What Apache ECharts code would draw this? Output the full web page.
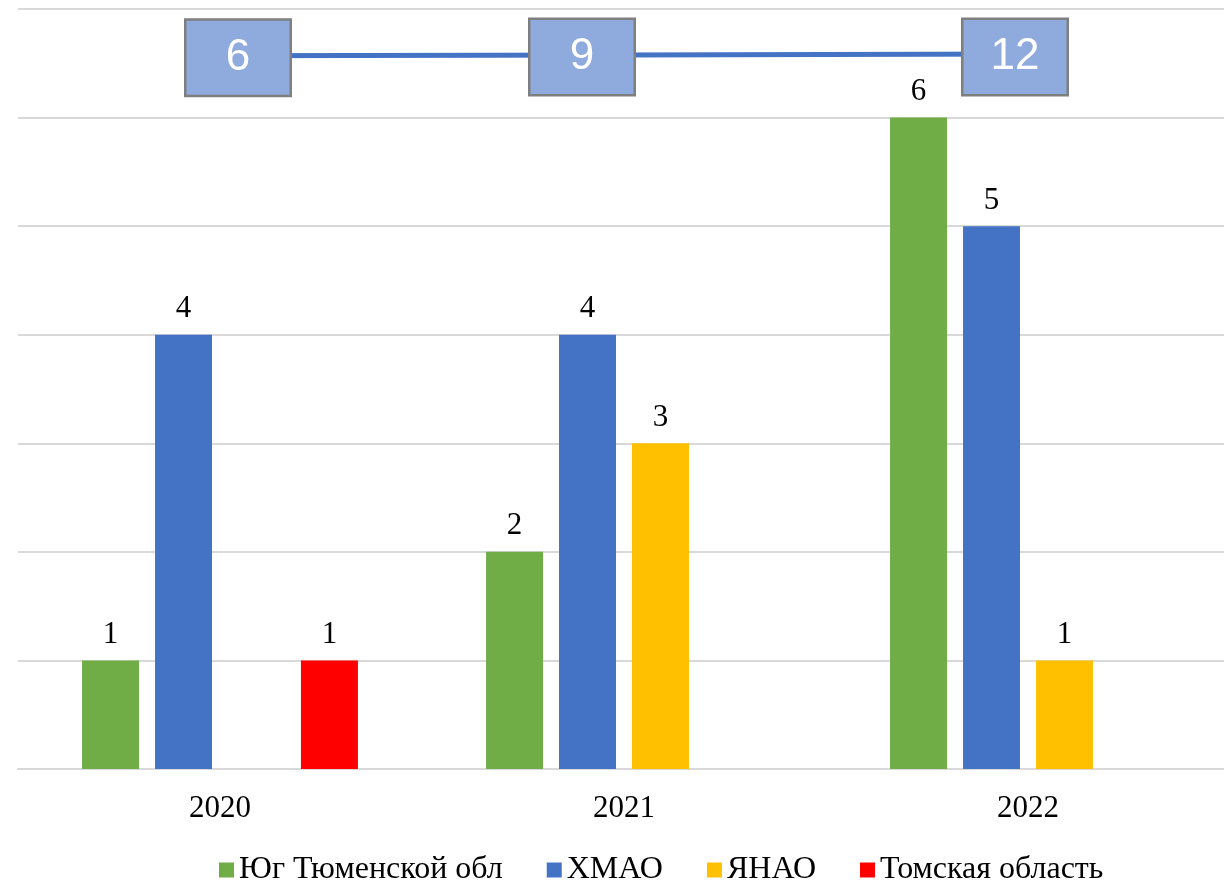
<!DOCTYPE html>
<html><head><meta charset="utf-8">
<script src="https://cdn.jsdelivr.net/npm/echarts@6/dist/echarts.min.js"></script>
<style>html,body{margin:0;padding:0;background:#fff}#c{width:1224px;height:885px}</style>
</head><body><div id="c"></div>
<script>
const categories = ['2020', '2021', '2022'];
const seriesNames = ['Юг Тюменской обл', 'ХМАО', 'ЯНАО', 'Томская область'];
const yug = [1, 2, 6];
const hmao = [4, 4, 5];
const yanao = [null, 3, 1];
const tomsk = [1, null, null];
const total = [6, 9, 12];

const colors = ['#70AD47', '#4472C4', '#FFC000', '#FF0000'];
const serif = '"Liberation Serif", "Times New Roman", serif';
const labelOffsets = [[18, 2], [-42, 2], [-13, 3]];

const barData = [yug, hmao, yanao, tomsk];
const bars = barData.map((d, i) => ({
  name: seriesNames[i],
  type: 'bar',
  data: d,
  barWidth: 57,
  barGap: '28%',
  itemStyle: { color: colors[i] },
  label: { show: true, position: 'top', distance: 10, fontFamily: serif, fontSize: 31, color: '#000' }
}));

const lineSeries = {
  name: 'Итого',
  type: 'line',
  yAxisIndex: 1,
  symbol: 'circle',
  symbolSize: 1,
  showSymbol: true,
  z: 5,
  itemStyle: { color: '#4472C4' },
  lineStyle: { color: '#4472C4', width: 5 },
  data: total.map((v, i) => ({
    value: v,
    label: { offset: labelOffsets[i] }
  })),
  label: {
    show: true,
    position: 'inside',
    fontFamily: '"Liberation Sans", Arial, sans-serif',
    fontSize: 44,
    color: '#fff',
    backgroundColor: '#8FAADC',
    borderColor: '#7F7F7F',
    borderWidth: 2.5,
    width: 103,
    height: 74,
    lineHeight: 74,
    align: 'center',
    verticalAlign: 'middle',
    padding: 0
  }
};

const chart = echarts.init(document.getElementById('c'));
chart.setOption({
  animation: false,
  grid: { left: 18, width: 1212, top: 9, bottom: 116, outerBoundsMode: 'none', containLabel: false },
  legend: {
    data: seriesNames,
    top: 849,
    left: 214,
    icon: 'rect',
    itemWidth: 15,
    itemHeight: 15,
    itemGap: 44,
    textStyle: { fontFamily: serif, fontSize: 32, color: '#000' }
  },
  xAxis: {
    type: 'category',
    data: categories,
    axisTick: { show: false },
    axisLine: { lineStyle: { color: '#D9D9D9', width: 2 } },
    axisLabel: { fontFamily: serif, fontSize: 31, color: '#000', margin: 24 }
  },
  yAxis: [
    { type: 'value', min: 0, max: 7, interval: 1, axisLabel: { show: false },
      axisLine: { show: false }, axisTick: { show: false },
      splitLine: { lineStyle: { color: '#D9D9D9', width: 2 } } },
    { type: 'value', min: -2340, max: 160, show: false, splitLine: { show: false } }
  ],
  series: [...bars, lineSeries]
});
</script></body></html>
